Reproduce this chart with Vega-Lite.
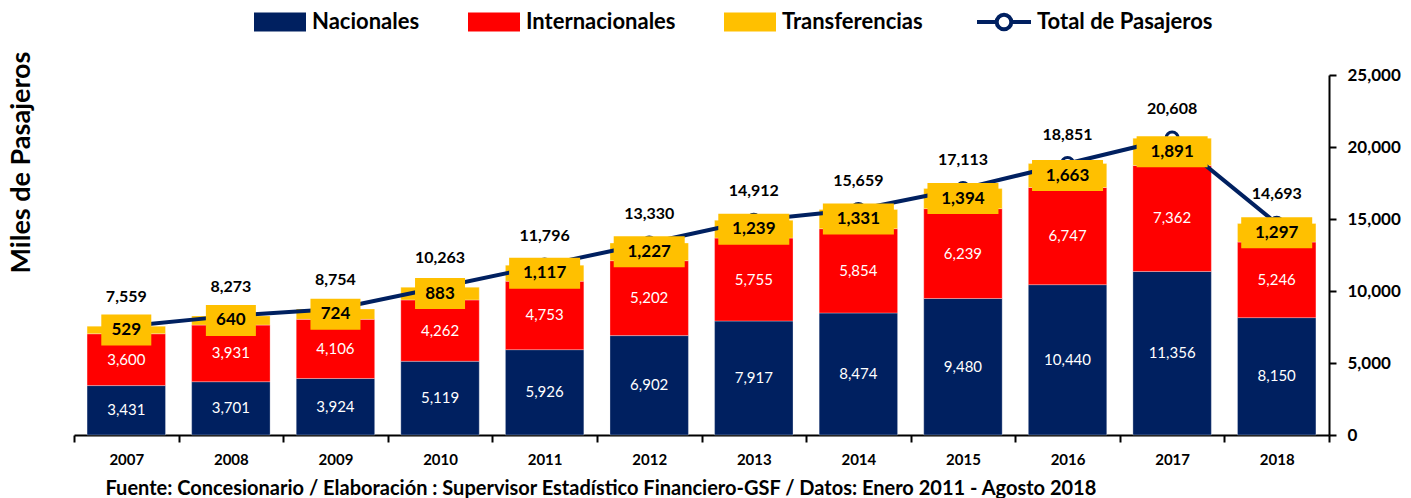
{
  "$schema": "https://vega.github.io/schema/vega-lite/v6.json",
  "width": 1255,
  "height": 360,
  "autosize": {"type": "none"},
  "padding": {"left": 74, "top": 75, "right": 82, "bottom": 63},
  "background": "white",
  "config": {"view": {"stroke": null}, "font": "Lato"},
  "data": {"values": [
    {"year": "2007", "Nacionales": 3431, "Internacionales": 3600, "Transferencias": 529, "Total": 7559},
    {"year": "2008", "Nacionales": 3701, "Internacionales": 3931, "Transferencias": 640, "Total": 8273},
    {"year": "2009", "Nacionales": 3924, "Internacionales": 4106, "Transferencias": 724, "Total": 8754},
    {"year": "2010", "Nacionales": 5119, "Internacionales": 4262, "Transferencias": 883, "Total": 10263},
    {"year": "2011", "Nacionales": 5926, "Internacionales": 4753, "Transferencias": 1117, "Total": 11796},
    {"year": "2012", "Nacionales": 6902, "Internacionales": 5202, "Transferencias": 1227, "Total": 13330},
    {"year": "2013", "Nacionales": 7917, "Internacionales": 5755, "Transferencias": 1239, "Total": 14912},
    {"year": "2014", "Nacionales": 8474, "Internacionales": 5854, "Transferencias": 1331, "Total": 15659},
    {"year": "2015", "Nacionales": 9480, "Internacionales": 6239, "Transferencias": 1394, "Total": 17113},
    {"year": "2016", "Nacionales": 10440, "Internacionales": 6747, "Transferencias": 1663, "Total": 18851},
    {"year": "2017", "Nacionales": 11356, "Internacionales": 7362, "Transferencias": 1891, "Total": 20608},
    {"year": "2018", "Nacionales": 8150, "Internacionales": 5246, "Transferencias": 1297, "Total": 14693}
  ]},
  "encoding": {
    "x": {
      "field": "year", "type": "ordinal",
      "scale": {"paddingInner": 0, "paddingOuter": 0},
      "axis": {
        "labelAngle": 0, "labelFont": "Lato", "labelFontSize": 15, "labelFontWeight": "bold", "labelColor": "black",
        "labelPadding": 10,
        "domainColor": "black", "domainWidth": 2,
        "tickColor": "black", "tickWidth": 2, "tickSize": 7, "tickBand": "extent",
        "title": "Fuente: Concesionario / Elaboración : Supervisor Estadístico Financiero-GSF / Datos: Enero 2011 - Agosto 2018",
        "titleFont": "Lato", "titleFontSize": 20, "titleFontWeight": "bold", "titleColor": "black",
        "titleAnchor": "start", "titleAlign": "left", "titleX": 31, "titleY": 53, "titleBaseline": "middle"
      }
    }
  },
  "layer": [
    {
      "transform": [
        {"fold": ["Nacionales", "Internacionales", "Transferencias"], "as": ["tipo", "valor"]},
        {"calculate": "indexof(['Nacionales','Internacionales','Transferencias'], datum.tipo)", "as": "ord"},
        {"stack": "valor", "groupby": ["year"], "sort": [{"field": "ord", "order": "ascending"}], "as": ["v0", "v1"]}
      ],
      "mark": {"type": "bar", "width": {"band": 0.75}, "stroke": "white", "strokeWidth": 0.6, "strokeOpacity": 0.5},
      "encoding": {
        "y": {
          "field": "v1", "type": "quantitative",
          "scale": {"domain": [0, 25000], "nice": false},
          "axis": {
            "orient": "right", "values": [0, 5000, 10000, 15000, 20000, 25000], "format": ",.0f",
            "grid": false, "title": null,
            "labelFont": "Lato", "labelFontSize": 17, "labelFontWeight": "bold", "labelColor": "black", "labelPadding": 11,
            "domainColor": "black", "domainWidth": 2, "tickColor": "black", "tickWidth": 2, "tickSize": 7
          }
        },
        "y2": {"field": "v0"},
        "color": {
          "field": "tipo", "type": "nominal",
          "scale": {
            "domain": ["Nacionales", "Internacionales", "Transferencias"],
            "range": ["#002060", "#FF0000", "#FFC000"]
          },
          "legend": {
            "orient": "none", "legendX": 180, "legendY": -79, "direction": "horizontal", "title": null,
            "labelFont": "Lato", "labelFontSize": 22, "labelFontWeight": "bold", "labelColor": "black", "labelLimit": 300,
            "symbolSize": 2704, "symbolType": "M-1,-0.365H1V0.365H-1Z", "symbolStrokeWidth": 0, "symbolOpacity": 1,
            "labelOffset": 6, "columnPadding": 48
          }
        },
        "order": {"field": "ord"}
      }
    },
    {
      "mark": {"type": "line", "strokeWidth": 4, "interpolate": "linear"},
      "encoding": {
        "y": {
          "field": "Total", "type": "quantitative",
          "scale": {"domain": [0, 25000], "nice": false},
          "axis": {
            "orient": "left", "labels": false, "ticks": false, "domain": false, "grid": false,
            "title": "Miles de Pasajeros", "titleFont": "Lato", "titleFontSize": 27, "titleFontWeight": "bold", "titleColor": "black",
            "titleAngle": -90, "titleX": -53, "titleY": 87, "titleAlign": "center", "titleBaseline": "middle"
          }
        },
        "stroke": {
          "datum": "Total de Pasajeros", "type": "nominal",
          "scale": {"domain": ["Total de Pasajeros"], "range": ["#002060"]},
          "legend": {
            "orient": "none", "legendX": 901, "legendY": -82, "direction": "horizontal", "title": null,
            "labelFont": "Lato", "labelFontSize": 22, "labelFontWeight": "bold", "labelColor": "black", "labelLimit": 300,
            "symbolSize": 2916,
            "symbolType": "M-1,0H-0.27M0.27,0H1M-0.27,0A0.27,0.27 0 1,1 0.27,0A0.27,0.27 0 1,1 -0.27,0Z",
            "symbolFillColor": "white", "symbolStrokeWidth": 4, "symbolOpacity": 1,
            "labelOffset": 4
          }
        }
      }
    },
    {
      "mark": {"type": "point", "filled": true, "fill": "white", "stroke": "#002060", "strokeWidth": 3, "size": 150, "opacity": 1},
      "encoding": {
        "y": {"field": "Total", "type": "quantitative", "scale": {"domain": [0, 25000], "nice": false}, "axis": null}
      }
    },
    {
      "transform": [
        {"filter": "datum.Transferencias < 1000"},
        {"calculate": "datum.Nacionales + datum.Internacionales + datum.Transferencias / 2", "as": "tmid"}
      ],
      "mark": {"type": "tick", "color": "#FFC000", "size": 50, "thickness": 31, "opacity": 1},
      "encoding": {
        "y": {"field": "tmid", "type": "quantitative", "scale": {"domain": [0, 25000], "nice": false}, "axis": null}
      }
    },
    {
      "transform": [
        {"filter": "datum.Transferencias >= 1000"},
        {"calculate": "datum.Nacionales + datum.Internacionales + datum.Transferencias / 2", "as": "tmid"}
      ],
      "mark": {"type": "tick", "color": "#FFC000", "size": 71, "thickness": 31, "opacity": 1},
      "encoding": {
        "y": {"field": "tmid", "type": "quantitative", "scale": {"domain": [0, 25000], "nice": false}, "axis": null}
      }
    },
    {
      "transform": [
        {"fold": ["Nacionales", "Internacionales"], "as": ["tipo", "valor"]},
        {"calculate": "indexof(['Nacionales','Internacionales'], datum.tipo)", "as": "ord"},
        {"stack": "valor", "groupby": ["year"], "sort": [{"field": "ord", "order": "ascending"}], "as": ["v0", "v1"]},
        {"calculate": "(datum.v0 + datum.v1) / 2", "as": "mid"}
      ],
      "mark": {"type": "text", "color": "white", "font": "Lato", "fontSize": 15, "baseline": "middle"},
      "encoding": {
        "y": {"field": "mid", "type": "quantitative", "scale": {"domain": [0, 25000], "nice": false}, "axis": null},
        "text": {"field": "valor", "type": "quantitative", "format": ",.0f"}
      }
    },
    {
      "transform": [
        {"calculate": "datum.Nacionales + datum.Internacionales + datum.Transferencias / 2", "as": "tmid"}
      ],
      "mark": {"type": "text", "color": "black", "font": "Lato", "fontSize": 17, "fontWeight": "bold", "baseline": "middle"},
      "encoding": {
        "y": {"field": "tmid", "type": "quantitative", "scale": {"domain": [0, 25000], "nice": false}, "axis": null},
        "text": {"field": "Transferencias", "type": "quantitative", "format": ",.0f"}
      }
    },
    {
      "mark": {"type": "text", "color": "black", "font": "Lato", "fontSize": 16, "fontWeight": "bold", "baseline": "middle", "dy": -29},
      "encoding": {
        "y": {"field": "Total", "type": "quantitative", "scale": {"domain": [0, 25000], "nice": false}, "axis": null},
        "text": {"field": "Total", "type": "quantitative", "format": ",.0f"}
      }
    }
  ],
  "resolve": {"scale": {"y": "independent"}}
}
